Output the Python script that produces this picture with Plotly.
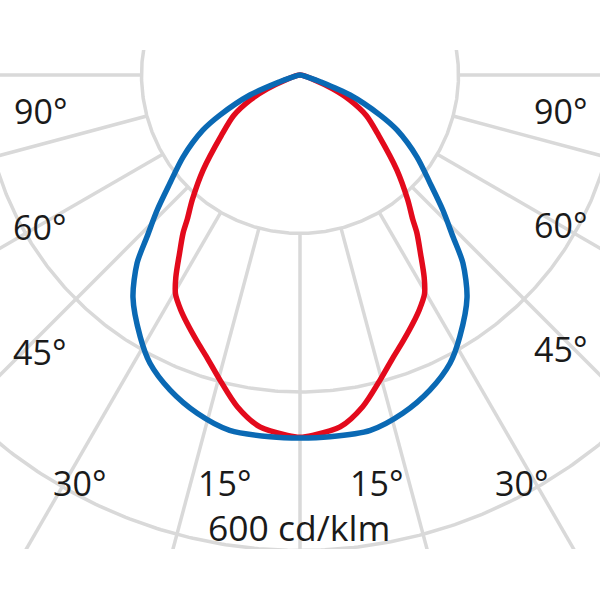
import numpy as np
import plotly.graph_objects as go

# ---- data ----
# gamma angle from nadir (deg) and luminous intensity (cd/klm), symmetric plane
blue_angles = [0, 4.7, 11.2, 16.9, 22.4, 27.5, 31.4, 36.9, 40.9, 43.4, 46.6, 50.3, 55.0, 60.4, 63.4, 68.2, 71.5, 75, 80]
blue_values = [458, 458, 457, 446, 430, 410, 387, 351, 314, 281, 248, 213, 180, 141, 113, 68, 27, 10, 0]

red_angles = [0, 2, 6.5, 10.7, 14.7, 18.3, 21.2, 24.5, 27, 29.6, 31.5, 34, 36.5, 38, 40.8, 45.6, 52.5, 58.6, 63.4, 67, 71, 76]
red_values = [457, 455, 447, 426, 398, 375, 360, 344, 332, 318, 300, 272, 248, 231, 208, 171, 125, 98, 70, 45, 20, 0]

grid_radii = [200, 400, 600]
grid_angles = [-90, -75, -60, -45, -30, -15, 0, 15, 30, 45, 60, 75, 90]

angle_labels = ["90°", "60°", "45°", "30°", "15°", "15°", "30°", "45°", "60°", "90°"]
scale_label = "600 cd/klm"

# ---- styles / layout ----
GRID = "#d9d9d9"
BLUE = "#0a69b4"
RED = "#e30a1c"
TXT = "#1a1a1a"
FONT = "Open Sans"


def to_xy(ang_deg, val):
    a = np.radians(np.asarray(ang_deg, float))
    v = np.asarray(val, float)
    return v * np.sin(a), -v * np.cos(a)


def full_curve(angles, values):
    angles = np.asarray(angles, float)
    values = np.asarray(values, float)
    ang = np.concatenate([-angles[::-1], angles[1:]])
    val = np.concatenate([values[::-1], values[1:]])
    return to_xy(ang, val)


fig = go.Figure()

# grid circles
t = np.linspace(-180, 180, 721)
for r in grid_radii:
    x, y = to_xy(t, np.full_like(t, r))
    fig.add_trace(go.Scatter(x=x, y=y, mode="lines", line=dict(color=GRID, width=3.5),
                             hoverinfo="skip", showlegend=False))
# radial grid lines
for a in grid_angles:
    x, y = to_xy([a, a], [grid_radii[0], 1200])
    fig.add_trace(go.Scatter(x=x, y=y, mode="lines", line=dict(color=GRID, width=3.5),
                             hoverinfo="skip", showlegend=False))

# curves
xr, yr = full_curve(red_angles, red_values)
fig.add_trace(go.Scatter(x=xr, y=yr, mode="lines",
                         line=dict(color=RED, width=5.5, shape="spline", smoothing=0.8),
                         showlegend=False))
xb, yb = full_curve(blue_angles, blue_values)
fig.add_trace(go.Scatter(x=xb, y=yb, mode="lines",
                         line=dict(color=BLUE, width=5.5, shape="spline", smoothing=0.8),
                         showlegend=False))

# label positions (data units)
label_pos = [(-328, -45), (-329, -192), (-329, -350), (-278, -515), (-95, -515),
             (97, -515), (279, -515), (329, -346), (329, -189), (329, -45)]
for txt, (lx, ly) in zip(angle_labels, label_pos):
    fig.add_annotation(x=lx, y=ly, text=txt, showarrow=False,
                       font=dict(family=FONT, size=34, color=TXT), xanchor="center", yanchor="middle")
fig.add_annotation(x=-1, y=-570, text=scale_label, showarrow=False,
                   font=dict(family=FONT, size=35.5, color=TXT), xanchor="center", yanchor="middle")

s = 0.7925  # px per cd/klm
fig.update_layout(
    width=600, height=600,
    margin=dict(l=0, r=0, t=50, b=51, pad=0),
    paper_bgcolor="white", plot_bgcolor="white",
    xaxis=dict(range=[-300 / s, 300 / s], visible=False, fixedrange=True),
    yaxis=dict(range=[-474 / s, 25 / s], visible=False, fixedrange=True),
    showlegend=False,
)

fig.write_html("out.html", config={"displayModeBar": False},
               post_script="document.body.style.margin='0px';document.body.style.overflow='hidden';")
